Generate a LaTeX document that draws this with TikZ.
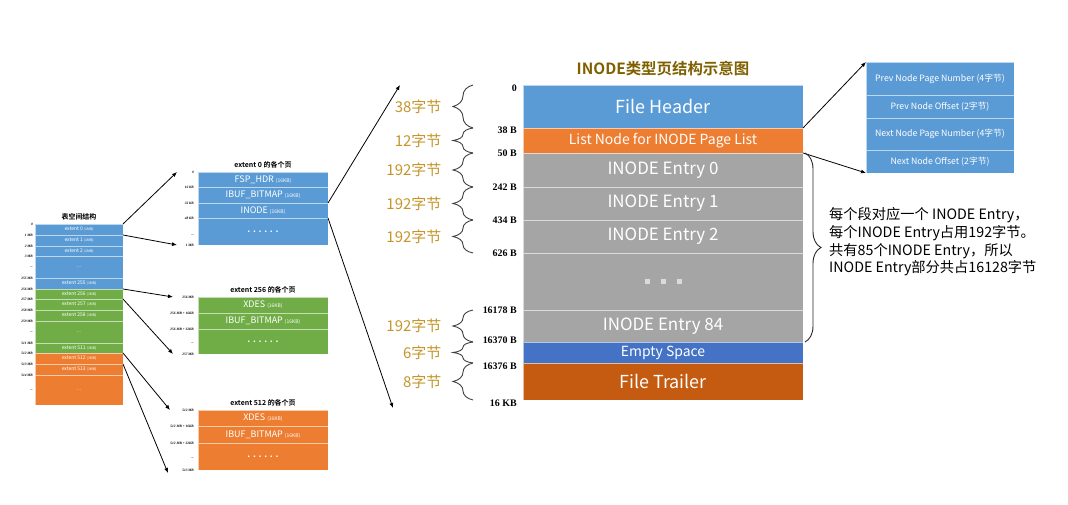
\documentclass[tikz,border=0pt]{standalone}
\usepackage{fontspec}
\setmainfont{Noto Sans CJK SC}[BoldFont={Noto Sans CJK SC Bold}]
\newfontfamily\offsetfont{Liberation Serif}
\usepackage{tikz}
\usetikzlibrary{arrows.meta,positioning,decorations.pathreplacing}
\definecolor{pgblue}{HTML}{5B9BD5}
\definecolor{pgorange}{HTML}{ED7D31}
\definecolor{pggreen}{HTML}{70AD47}
\definecolor{pggray}{HTML}{A5A5A5}
\definecolor{pgdeep}{HTML}{4472C4}
\definecolor{pgrust}{HTML}{C55A11}
\definecolor{pggold}{HTML}{C4952A}
\definecolor{pgtitle}{HTML}{7F6000}
\newcommand{\unitsz}[1]{{\fontsize{3.5}{4}\selectfont #1}}
\newcommand{\kbsz}[1]{{\fontsize{5}{6}\selectfont #1}}
\tikzset{
  cell/.style={draw=white, draw opacity=0.6, line width=0.6bp, text=white,
    inner sep=0pt, outer sep=0pt, align=center},
  spacecell/.style={cell, minimum width=88bp, font=\fontsize{5}{6}\selectfont},
  extcell/.style={cell, minimum width=130bp, font=\fontsize{9}{10}\selectfont},
  pagecell/.style={cell, minimum width=280bp},
  fieldcell/.style={cell, fill=pgblue, minimum width=148bp, font=\fontsize{8.8}{10}\selectfont},
  spaceoff/.style={anchor=east, xshift=-2bp, inner sep=0pt,
    font=\offsetfont\bfseries\itshape\fontsize{3.5}{4}\selectfont},
  extoff/.style={anchor=east, xshift=-4bp, inner sep=0pt,
    font=\offsetfont\bfseries\itshape\fontsize{3.5}{4}\selectfont},
  pageoff/.style={anchor=east, xshift=-6bp, inner sep=0pt,
    font=\offsetfont\bfseries\fontsize{10}{12}\selectfont},
  sizebrace/.style={decorate, decoration={brace, amplitude=20bp}, draw=black!75, line width=0.9bp},
  sizetext/.style={midway, left=28bp, text=pggold, font=\fontsize{15}{17}\selectfont},
  bigbrace/.style={decorate, decoration={brace, amplitude=16bp}, draw=black!85, line width=0.9bp},
  notetext/.style={align=left, inner sep=0pt, font=\fontsize{14.3}{17.7}\selectfont},
  linkarrow/.style={-{Latex[length=5bp, width=4bp]}, draw=black, line width=0.8bp},
  boxtitle/.style={font=\bfseries\fontsize{7}{8}\selectfont, inner sep=1bp},
}
\begin{document}
\begin{tikzpicture}[x=1bp, y=-1bp]
\useasboundingbox (0,0) rectangle (1068,505);

% tablespace
\node[spacecell, fill=pgblue, minimum height=11bp] (s0) at (79,229.5) {extent 0 \unitsz{(1MB)}};
\node[spacecell, fill=pgblue, minimum height=11bp, below=0pt of s0] (s1) {extent 1 \unitsz{(1MB)}};
\node[spacecell, fill=pgblue, minimum height=10bp, below=0pt of s1] (s2) {extent 2 \unitsz{(1MB)}};
\node[spacecell, fill=pgblue, minimum height=22bp, below=0pt of s2] (s3) {...};
\node[spacecell, fill=pgblue, minimum height=11bp, below=0pt of s3] (s255) {extent 255 \unitsz{(1MB)}};
\node[spacecell, fill=pggreen, minimum height=10bp, below=0pt of s255] (s256) {extent 256 \unitsz{(1MB)}};
\node[spacecell, fill=pggreen, minimum height=11bp, below=0pt of s256] (s257) {extent 257 \unitsz{(1MB)}};
\node[spacecell, fill=pggreen, minimum height=11bp, below=0pt of s257] (s258) {extent 258 \unitsz{(1MB)}};
\node[spacecell, fill=pggreen, minimum height=22bp, below=0pt of s258] (s259) {...};
\node[spacecell, fill=pggreen, minimum height=10bp, below=0pt of s259] (s511) {extent 511 \unitsz{(1MB)}};
\node[spacecell, fill=pgorange, minimum height=11bp, below=0pt of s511] (s512) {extent 512 \unitsz{(1MB)}};
\node[spacecell, fill=pgorange, minimum height=11bp, below=0pt of s512] (s513) {extent 513 \unitsz{(1MB)}};
\node[spacecell, fill=pgorange, minimum height=30bp, below=0pt of s513] (s514) {...};
\node[boxtitle, above=3bp of s0] (stitle) {表空间结构};
\foreach \r/\t in {s0/0, s1/1 MB, s2/2 MB, s3/3 MB, s255/255 MB, s256/256 MB, s257/257 MB,
    s258/258 MB, s259/259 MB, s511/511 MB, s512/512 MB, s513/513 MB, s514/514 MB}
  \node[spaceoff] at (\r.north west) {\t};
\foreach \r in {s3, s259, s514}
  \node[spaceoff] at (\r.west) {...};

% extent 0
\node[extcell, fill=pgblue, minimum height=15bp] (e0a) at (263,179.5) {FSP\_HDR \kbsz{(16KB)}};
\node[extcell, fill=pgblue, minimum height=16bp, below=0pt of e0a] (e0b) {IBUF\_BITMAP \kbsz{(16KB)}};
\node[extcell, fill=pgblue, minimum height=15bp, below=0pt of e0b] (e0c) {INODE \kbsz{(16KB)}};
\node[extcell, fill=pgblue, minimum height=27bp, below=0pt of e0c] (e0d) {\textbf{. . . . . .}};
\node[boxtitle, above=3bp of e0a] (e0title) {extent 0 的各个页};
\foreach \r/\t in {e0a/0, e0b/16 KB, e0c/32 KB, e0d/48 KB}
  \node[extoff] at (\r.north west) {\t};
\node[extoff, yshift=-4bp] at (e0d.west) {...};
\node[extoff] at (e0d.south west) {1 MB};

% extent 256
\node[extcell, fill=pggreen, minimum height=16bp] (e256a) at (263,305) {XDES \kbsz{(16KB)}};
\node[extcell, fill=pggreen, minimum height=16bp, below=0pt of e256a] (e256b) {IBUF\_BITMAP \kbsz{(16KB)}};
\node[extcell, fill=pggreen, minimum height=25bp, below=0pt of e256b] (e256c) {\textbf{. . . . . .}};
\node[boxtitle, above=3bp of e256a] (e256title) {extent 256 的各个页};
\foreach \r/\t in {e256a/256 MB, e256b/256 MB + 16KB, e256c/256 MB + 32KB}
  \node[extoff] at (\r.north west) {\t};
\node[extoff, yshift=-2bp] at (e256c.west) {...};
\node[extoff] at (e256c.south west) {257 MB};

% extent 512
\node[extcell, fill=pgorange, minimum height=16bp] (e512a) at (263,418) {XDES \kbsz{(16KB)}};
\node[extcell, fill=pgorange, minimum height=17bp, below=0pt of e512a] (e512b) {IBUF\_BITMAP \kbsz{(16KB)}};
\node[extcell, fill=pgorange, minimum height=27bp, below=0pt of e512b] (e512c) {\textbf{. . . . . .}};
\node[boxtitle, above=3bp of e512a] (e512title) {extent 512 的各个页};
\foreach \r/\t in {e512a/512 MB, e512b/512 MB + 16KB, e512c/512 MB + 32KB}
  \node[extoff] at (\r.north west) {\t};
\node[extoff, yshift=-2bp] at (e512c.west) {...};
\node[extoff] at (e512c.south west) {513 MB};

\draw[linkarrow] (s0.north east) -- ([xshift=-21bp]e0a.north west);
\draw[linkarrow] (s0.south east) -- ([xshift=-21bp]e0d.south west);
\draw[linkarrow] (s256.north east) -- ([xshift=-25bp]e256a.north west);
\draw[linkarrow] (s256.south east) -- ([xshift=-25bp]e256c.south west);
\draw[linkarrow] (s512.north east) -- ([xshift=-28bp]e512a.north west);
\draw[linkarrow] (s512.south east) -- ([xshift=-30bp, yshift=-3bp]e512c.south west);

% INODE page
\node[pagecell, fill=pgblue, minimum height=43bp, font=\fontsize{18}{20}\selectfont] (fh) at (663,106.5) {File Header};
\node[pagecell, fill=pgorange, minimum height=25bp, font=\fontsize{14}{15}\selectfont, below=0pt of fh] (ln) {List Node for INODE Page List};
\node[pagecell, fill=pggray, minimum height=34bp, font=\fontsize{17}{19}\selectfont, below=0pt of ln] (ie0) {INODE Entry 0};
\node[pagecell, fill=pggray, minimum height=33bp, font=\fontsize{17}{19}\selectfont, below=0pt of ie0] (ie1) {INODE Entry 1};
\node[pagecell, fill=pggray, minimum height=33bp, font=\fontsize{17}{19}\selectfont, below=0pt of ie1] (ie2) {INODE Entry 2};
\node[pagecell, fill=pggray, minimum height=57bp, below=0pt of ie2] (dots)
  {\rule{5bp}{5bp}\hspace{11bp}\rule{5bp}{5bp}\hspace{11bp}\rule{5bp}{5bp}};
\node[pagecell, fill=pggray, minimum height=32bp, font=\fontsize{17}{19}\selectfont, below=0pt of dots] (ie84) {INODE Entry 84};
\node[pagecell, fill=pgdeep, minimum height=21bp, font=\fontsize{14}{15}\selectfont, below=0pt of ie84] (es) {Empty Space};
\node[pagecell, fill=pgrust, minimum height=37bp, font=\fontsize{18}{20}\selectfont, below=0pt of es] (ft) {File Trailer};
\node[text=pgtitle, font=\bfseries\fontsize{15.5}{17}\selectfont, above=6bp of fh] (title) {INODE类型页结构示意图};

\node[pageoff, yshift=-3bp] at (fh.north west) {0};
\node[pageoff, yshift=-2bp] at (ln.north west) {38 B};
\foreach \r/\t in {ie0/50 B, ie1/242 B, ie2/434 B, dots/626 B, ie84/16178 B}
  \node[pageoff] at (\r.north west) {\t};
\node[pageoff, yshift=2bp] at (es.north west) {16370 B};
\node[pageoff, yshift=-3bp] at (ft.north west) {16376 B};
\node[pageoff, yshift=-3bp] at (ft.south west) {16 KB};

\foreach \r/\t in {fh/38字节, ln/12字节, ie0/192字节, ie1/192字节, ie2/192字节,
    ie84/192字节, es/6字节, ft/8字节}
  \draw[sizebrace] ([xshift=-50bp]\r.south west) -- ([xshift=-50bp]\r.north west) node[sizetext] {\t};

\draw[linkarrow] (e0c.north east) -- ([xshift=-123bp]fh.north west);
\draw[linkarrow] (e0c.south east) -- ([xshift=-130bp, yshift=-8bp]ft.south west);

% list node fields
\node[fieldcell, minimum height=33bp] (pf1) at (940,78.5) {Prev Node Page Number (4字节)};
\node[fieldcell, minimum height=23bp, below=0pt of pf1] (po) {Prev Node Offset (2字节)};
\node[fieldcell, minimum height=32bp, below=0pt of po] (nf1) {Next Node Page Number (4字节)};
\node[fieldcell, minimum height=23bp, below=0pt of nf1] (no) {Next Node Offset (2字节)};
\draw[linkarrow] (ln.north east) -- (pf1.north west);
\draw[linkarrow] (ln.south east) -- (no.south west);

\draw[bigbrace] ([xshift=2bp]ie0.north east) -- ([xshift=2bp]ie84.south east);
\node[notetext, anchor=west] (note) at (829,242)
  {每个段对应一个 INODE Entry，\\每个INODE Entry占用192字节。\\共有85个INODE Entry，所以\\INODE Entry部分共占16128字节};
\end{tikzpicture}
\end{document}
